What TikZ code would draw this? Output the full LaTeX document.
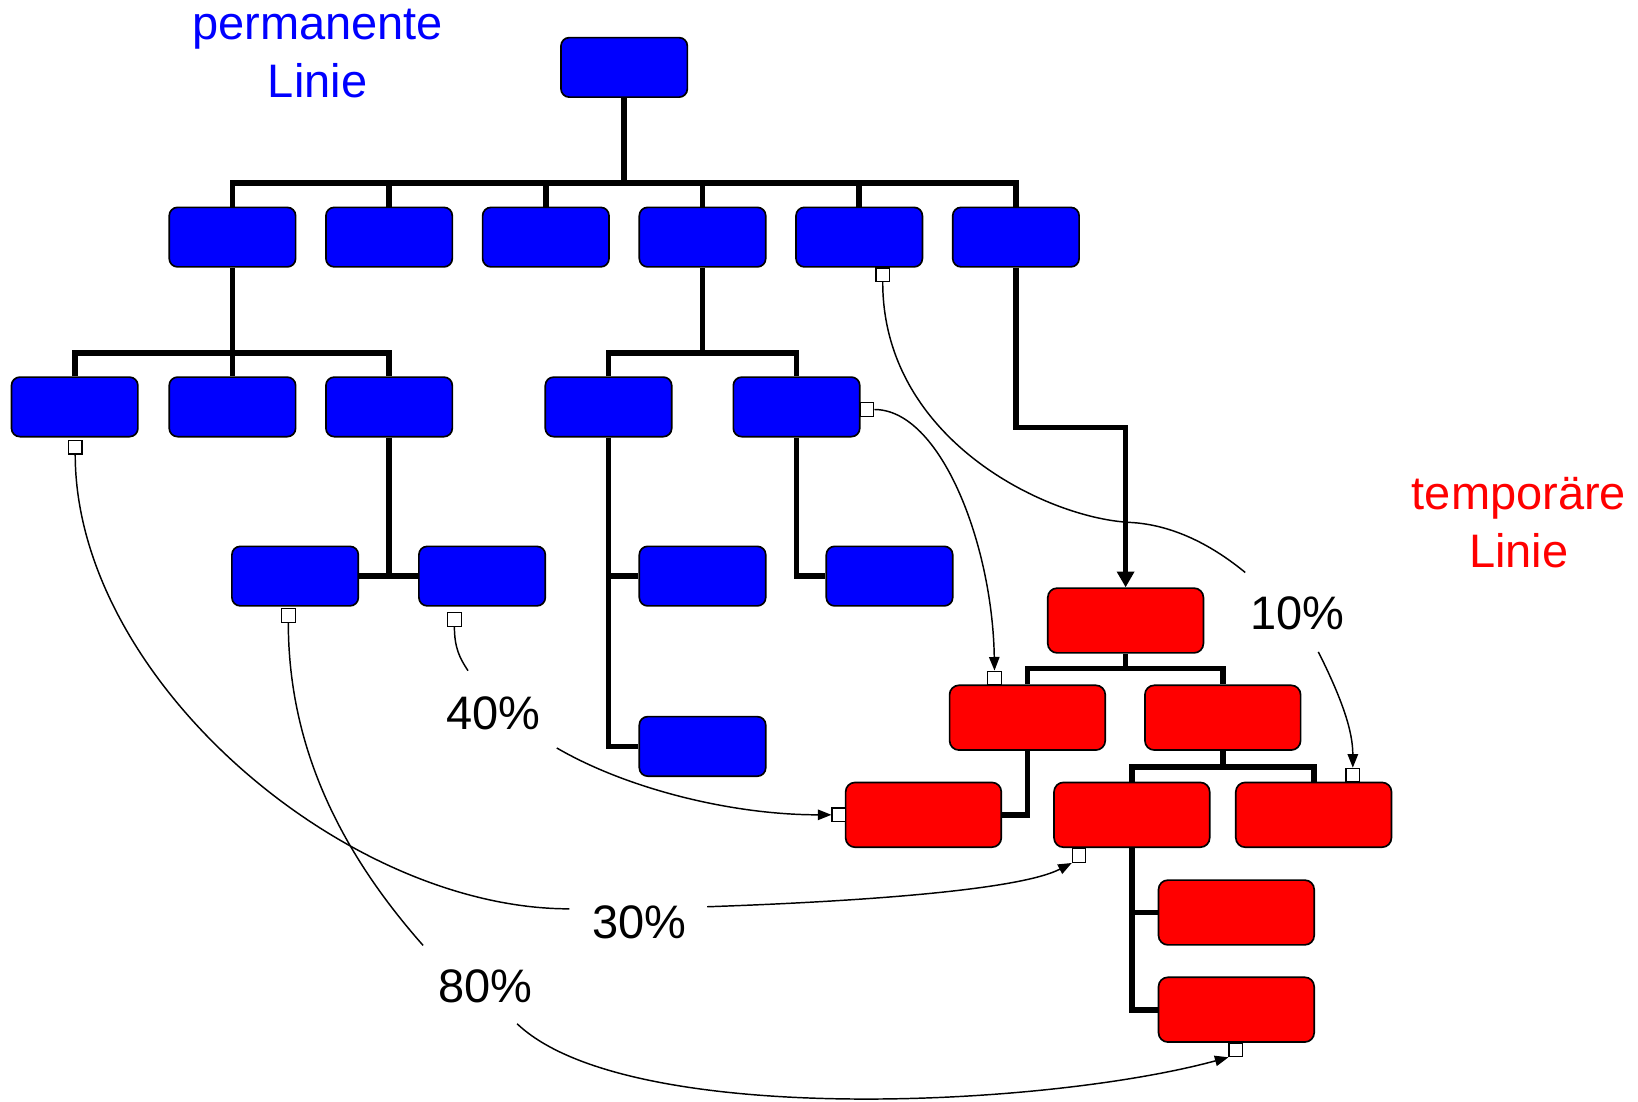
\documentclass[tikz,border=0pt]{standalone}
\usepackage{fontspec}
\setmainfont{Liberation Sans}
\usetikzlibrary{arrows.meta}
\definecolor{pblue}{RGB}{0,0,255}
\definecolor{pred}{RGB}{255,0,0}
\begin{document}
\begin{tikzpicture}[x=1pt,y=-1pt,
 bbox/.style={draw=black, line width=1.6pt, fill=pblue, rounded corners=8pt, minimum width=121pt, minimum height=57pt, inner sep=0pt},
 rbox/.style={draw=black, line width=1.6pt, fill=pred, rounded corners=9pt, minimum width=149pt, minimum height=62pt, inner sep=0pt},
 port/.style={draw=black, line width=1.1pt, fill=white, minimum size=13pt, inner sep=0pt},
 conn/.style={line width=5.5pt},
 flow/.style={line width=1.4pt, -{Triangle[length=13pt,width=10pt]}},
 plain/.style={line width=1.4pt},
 lbl/.style={font=\fontsize{45}{55}\selectfont, inner sep=0pt, anchor=base}]
\useasboundingbox (0,0) rectangle (1568,1054);
% blue boxes
\node[bbox] (t) at (597.5,64.5) {};
\foreach \i/\x in {1/222.5,2/372.5,3/522.5,4/672.5,5/822.5,6/972.5}
  \node[bbox] (a\i) at (\x,227) {};
\node[bbox] (b1) at (71.5,389.5) {};
\node[bbox] (b2) at (222.5,389.5) {};
\node[bbox] (b3) at (372.5,389.5) {};
\node[bbox] (b4) at (582.5,389.5) {};
\node[bbox] (b5) at (762.5,389.5) {};
\node[bbox] (c1) at (282.5,551.5) {};
\node[bbox] (c2) at (461.5,551.5) {};
\node[bbox] (c3) at (672.5,551.5) {};
\node[bbox] (c4) at (851.5,551.5) {};
\node[bbox] (d1) at (672.5,714.5) {};
% red boxes
\node[rbox] (r0) at (1077.5,594) {};
\node[rbox] (r1) at (983.5,687) {};
\node[rbox] (r2) at (1170.5,687) {};
\node[rbox] (r3) at (884,780) {};
\node[rbox] (r4) at (1083.5,780) {};
\node[rbox] (r5) at (1257.5,780) {};
\node[rbox] (r6) at (1183.5,873.5) {};
\node[rbox] (r7) at (1183.5,966.5) {};
% bus coordinates
\coordinate (bus1) at (597.5,175);
\coordinate (bus2) at (222.5,338);
\coordinate (bus3) at (672.5,338);
\coordinate (bus4) at (1077.5,640);
\coordinate (bus5) at (1170.5,734);
% tree connectors
\draw[conn] (t.south) -- (bus1);
\draw[conn] (a1.north) |- (bus1) -| (a6.north);
\foreach \i in {2,3,4,5} \draw[conn] (a\i.north) -- (a\i.north |- bus1);
\draw[conn] (a1.south) -- (b2.north);
\draw[conn] (b1.north) |- (bus2) -| (b3.north);
\draw[conn] (a4.south) -- (bus3);
\draw[conn] (b4.north) |- (bus3) -| (b5.north);
\draw[conn] (b3.south) -- (b3.south |- c1.east);
\draw[conn] (c1.east) -- (c2.west);
\draw[conn] (b4.south) |- (d1.west);
\draw[conn] (b4.south |- c3.west) -- (c3.west);
\draw[conn] (b5.south) |- (c4.west);
\draw[conn, -{Triangle[length=15pt,width=16pt]}] (a6.south) -- ++(0,153) -| (r0.north);
\draw[conn] (r0.south) -- (bus4);
\draw[conn] (r1.north) |- (bus4) -| (r2.north);
\draw[conn] (r1.south) |- (r3.east);
\draw[conn] (r2.south) -- (bus5);
\draw[conn] (r4.north) |- (bus5) -| (r5.north);
\draw[conn] (r4.south) |- (r7.west);
\draw[conn] (r4.south |- r6.west) -- (r6.west);
% ports
\node[port, anchor=north] (p1) at (845,256) {};
\node[port, anchor=west] (p2) at (823,392) {};
\node[port, anchor=north] (p3) at (72,421) {};
\node[port, anchor=north] (p4) at (276,582) {};
\node[port, anchor=north] (p5) at (435,586) {};
\node[port, anchor=south] (p6) at (952,656) {};
\node[port, anchor=east] (p7) at (810,780) {};
\node[port, anchor=north] (p8) at (1033,812) {};
\node[port, anchor=south] (p9) at (1295,749) {};
\node[port, anchor=north] (p10) at (1183,998) {};
% labels
\node[lbl, text=pblue] (perm1) at (304,38) {permanente};
\node[lbl, text=pblue] (perm2) at (304,93) {Linie};
\node[lbl, text=pred] (temp1) at (1454,488) {temporäre};
\node[lbl, text=pred] (temp2) at (1454,543) {Linie};
\node[lbl] (l10) at (1242,603) {10\%};
\node[lbl] (l40) at (472,698) {40\%};
\node[lbl] (l30) at (612,898) {30\%};
\node[lbl] (l80) at (465,960) {80\%};
% curve break points
\coordinate (e1a) at (1192,548);
\coordinate (e1b) at (1262,624);
\coordinate (e3a) at (545,870);
\coordinate (e3b) at (677,868);
\coordinate (e4a) at (405,905);
\coordinate (e4b) at (495,980);
\coordinate (e5a) at (448,642);
\coordinate (e5b) at (533,716);
% flow curves
\draw[plain] (p1.south) .. controls (845,420) and (1000,495) .. (1080,500) .. controls (1130,502) and (1170,530) .. (e1a);
\draw[flow] (e1b) .. controls (1285,670) and (1295,700) .. (p9.north);
\draw[flow] (p2.east) .. controls (900,392) and (950,520) .. (p6.north);
\draw[plain] (p3.south) .. controls (72,650) and (330,870) .. (e3a);
\draw[flow] (e3b) .. controls (850,862) and (980,850) .. (p8.south west);
\draw[plain] (p4.south) .. controls (276,720) and (330,820) .. (e4a);
\begin{scope}
\clip (0,0) rectangle (1568,1054);
\draw[flow] (e4b) .. controls (600,1080) and (1000,1060) .. (p10.south west);
\end{scope}
\draw[plain] (p5.south) .. controls (435,620) and (440,630) .. (e5a);
\draw[flow] (e5b) .. controls (600,755) and (700,780) .. (p7.west);
\end{tikzpicture}
\end{document}
